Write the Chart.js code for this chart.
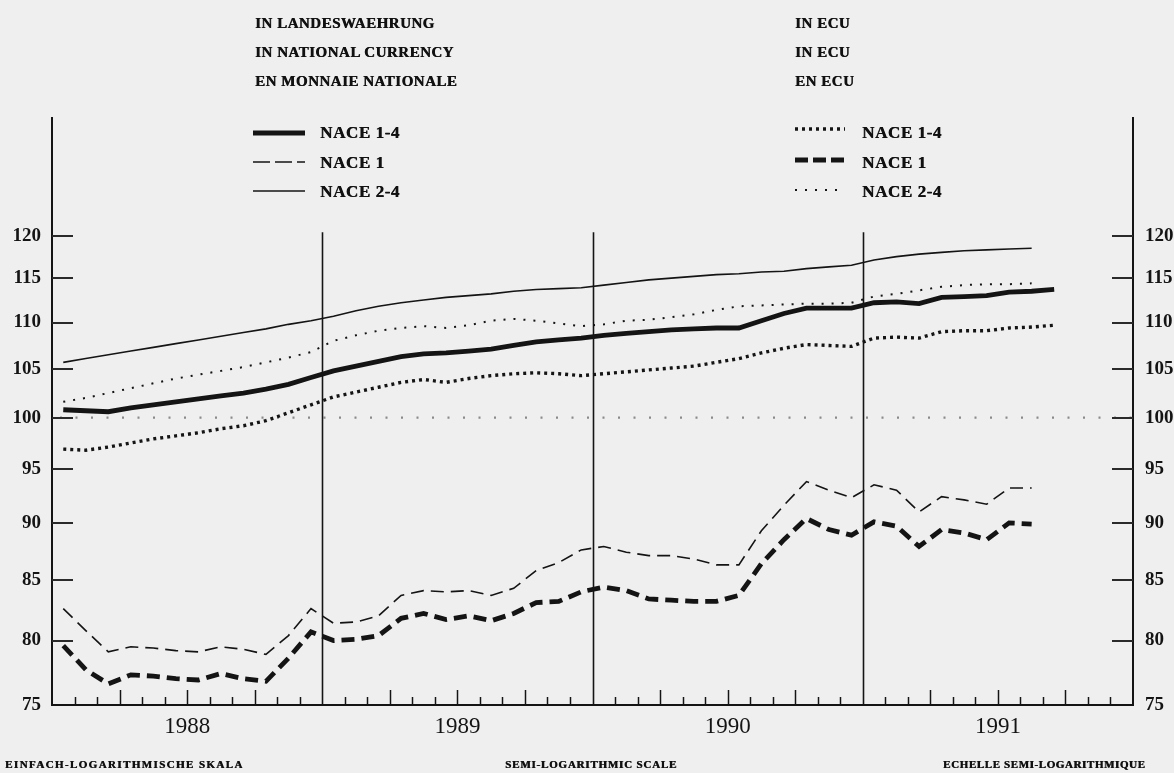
<!DOCTYPE html>
<html>
<head>
<meta charset="utf-8">
<script src="https://cdn.jsdelivr.net/npm/chart.js@4.4.1/dist/chart.umd.min.js"></script>
<style>
html,body{margin:0;padding:0;background:#efefef;}
#wrap{position:relative;width:1174px;height:773px;overflow:hidden;background:#efefef;}
#c{position:absolute;left:0;top:0;}
.t{position:absolute;font-family:"Liberation Serif",serif;font-weight:bold;color:#111;white-space:nowrap;line-height:1;text-shadow:0.5px 0 0 #111;}
.h{font-size:15px;letter-spacing:0.5px;}
.l{font-size:17px;letter-spacing:0.6px;}
.b{font-size:11px;font-weight:900;text-shadow:0.6px 0 0 #111;}
</style>
</head>
<body>
<div id="wrap">
<canvas id="c" width="1174" height="773"></canvas>
<div class="t h" style="left:255px;top:16px">IN LANDESWAEHRUNG</div>
<div class="t h" style="left:255px;top:45px">IN NATIONAL CURRENCY</div>
<div class="t h" style="left:255px;top:74px">EN MONNAIE NATIONALE</div>
<div class="t h" style="left:795px;top:16px">IN ECU</div>
<div class="t h" style="left:795px;top:45px">IN ECU</div>
<div class="t h" style="left:795px;top:74px">EN ECU</div>
<div class="t l" style="left:320px;top:124px">NACE 1-4</div>
<div class="t l" style="left:320px;top:154px">NACE 1</div>
<div class="t l" style="left:320px;top:183px">NACE 2-4</div>
<div class="t l" style="left:862px;top:124px">NACE 1-4</div>
<div class="t l" style="left:862px;top:154px">NACE 1</div>
<div class="t l" style="left:862px;top:183px">NACE 2-4</div>
<div class="t b" style="left:5px;top:759px;letter-spacing:1.4px">EINFACH-LOGARITHMISCHE SKALA</div>
<div class="t b" style="left:505px;top:759px;letter-spacing:0.8px">SEMI-LOGARITHMIC SCALE</div>
<div class="t b" style="left:943px;top:759px;letter-spacing:0.6px">ECHELLE SEMI-LOGARITHMIQUE</div>
</div>
<script>
// ---- data (monthly, from January 1988) ----
const yearLabels = ['1988', '1989', '1990', '1991'];
const yTickValues = [75, 80, 85, 90, 95, 100, 105, 110, 115, 120];
const referenceValue = 100;

const nace14National = [
  100.8, 100.7, 100.6, 101.0, 101.3, 101.6, 101.9, 102.2, 102.5, 102.9, 103.4, 104.1,
  104.8, 105.3, 105.8, 106.3, 106.6, 106.7, 106.9, 107.1, 107.5, 107.9, 108.1, 108.3,
  108.6, 108.8, 109.0, 109.2, 109.3, 109.4, 109.4, 110.2, 111.0, 111.6, 111.6, 111.6,
  112.2, 112.3, 112.1, 112.8, 112.9, 113.0, 113.4, 113.5, 113.7
];
const nace1National = [
  82.6, 80.8, 79.1, 79.5, 79.4, 79.2, 79.1, 79.5, 79.3, 78.9, 80.4, 82.6,
  81.4, 81.5, 82.0, 83.7, 84.1, 84.0, 84.1, 83.7, 84.3, 85.8, 86.5, 87.6,
  87.9, 87.4, 87.1, 87.1, 86.8, 86.3, 86.3, 89.3, 91.6, 93.8, 93.0, 92.3,
  93.5, 93.0, 91.0, 92.4, 92.1, 91.7, 93.2, 93.2
];
const nace24National = [
  105.7, 106.1, 106.5, 106.9, 107.3, 107.7, 108.1, 108.5, 108.9, 109.3, 109.8, 110.2,
  110.7, 111.3, 111.8, 112.2, 112.5, 112.8, 113.0, 113.2, 113.5, 113.7, 113.8, 113.9,
  114.2, 114.5, 114.8, 115.0, 115.2, 115.4, 115.5, 115.7, 115.8, 116.1, 116.3, 116.5,
  117.1, 117.5, 117.8, 118.0, 118.2, 118.3, 118.4, 118.5
];
const nace14Ecu = [
  96.9, 96.8, 97.1, 97.5, 97.9, 98.2, 98.5, 98.9, 99.2, 99.7, 100.5, 101.3,
  102.1, 102.6, 103.1, 103.6, 103.9, 103.6, 104.0, 104.3, 104.5, 104.6, 104.5, 104.3,
  104.5, 104.7, 104.9, 105.1, 105.3, 105.7, 106.1, 106.7, 107.2, 107.6, 107.5, 107.4,
  108.3, 108.4, 108.3, 109.0, 109.1, 109.1, 109.4, 109.5, 109.7
];
const nace1Ecu = [
  79.6, 77.7, 76.6, 77.3, 77.2, 77.0, 76.9, 77.4, 77.0, 76.8, 78.6, 80.7,
  80.0, 80.1, 80.4, 81.8, 82.2, 81.7, 82.0, 81.6, 82.2, 83.1, 83.2, 84.0,
  84.4, 84.1, 83.4, 83.3, 83.2, 83.2, 83.7, 86.4, 88.5, 90.4, 89.4, 88.9,
  90.1, 89.7, 87.9, 89.4, 89.1, 88.5, 90.0, 89.9
];
const nace24Ecu = [
  101.6, 102.0, 102.5, 103.0, 103.5, 104.0, 104.4, 104.8, 105.2, 105.7, 106.2, 106.8,
  108.0, 108.6, 109.1, 109.4, 109.6, 109.4, 109.7, 110.2, 110.4, 110.2, 109.9, 109.6,
  109.8, 110.2, 110.3, 110.6, 110.9, 111.4, 111.8, 111.9, 112.0, 112.1, 112.1, 112.2,
  112.9, 113.2, 113.6, 114.0, 114.2, 114.3, 114.3, 114.4
];

// ---- helpers ----
const monthsTotal = yearLabels.length * 12;
const toXY = arr => arr.map((v, i) => ({ x: i + 0.5, y: v }));
const INK = '#141414';

const styles = {
  n14: { borderWidth: 4.8, borderDash: [] },
  n1:  { borderWidth: 1.6, borderDash: [13, 7] },
  n24: { borderWidth: 1.6, borderDash: [] },
  e14: { borderWidth: 3.4, borderDash: [3, 4] },
  e1:  { borderWidth: 4.8, borderDash: [13, 7] },
  e24: { borderWidth: 2,   borderDash: [2, 8] }
};

function ds(label, arr, st, axis) {
  return {
    label, data: toXY(arr), borderColor: INK, backgroundColor: INK,
    borderWidth: st.borderWidth, borderDash: st.borderDash,
    pointRadius: 0, tension: 0, fill: false, yAxisID: axis || 'y'
  };
}

const deco = {
  id: 'deco',
  beforeDatasetsDraw(chart) {
    const { ctx, chartArea: a, scales } = chart;
    const x = scales.x, y = scales.y;
    ctx.save();
    // reference line
    const yr = y.getPixelForValue(referenceValue);
    ctx.strokeStyle = '#8a8a8a';
    ctx.lineWidth = 2.2;
    ctx.setLineDash([2, 13.5]);
    ctx.beginPath(); ctx.moveTo(a.left + 8, yr); ctx.lineTo(a.right, yr); ctx.stroke();
    ctx.setLineDash([]);
    // year separators
    ctx.strokeStyle = INK; ctx.lineWidth = 1.6;
    const topY = y.getPixelForValue(120.4);
    for (let m = 12; m < monthsTotal; m += 12) {
      const px = Math.round(x.getPixelForValue(m)) + 0.5;
      ctx.beginPath(); ctx.moveTo(px, topY); ctx.lineTo(px, a.bottom); ctx.stroke();
    }
    // month / quarter ticks
    ctx.lineWidth = 1.5;
    for (let m = 1; m < monthsTotal; m++) {
      if (m % 12 === 0) continue;
      const px = Math.round(x.getPixelForValue(m)) + 0.5;
      const len = m % 3 === 0 ? 15 : 8;
      ctx.beginPath(); ctx.moveTo(px, a.bottom); ctx.lineTo(px, a.bottom - len); ctx.stroke();
    }
    // value ticks both sides
    ctx.lineWidth = 2;
    ctx.strokeStyle = '#2a2a2a';
    yTickValues.forEach(v => {
      if (v === 75) return;
      const py = Math.round(y.getPixelForValue(v));
      ctx.beginPath(); ctx.moveTo(a.left, py); ctx.lineTo(a.left + 21, py); ctx.stroke();
      ctx.beginPath(); ctx.moveTo(a.right - 21, py); ctx.lineTo(a.right, py); ctx.stroke();
    });
    ctx.restore();
  },
  afterDraw(chart) {
    const ctx = chart.ctx;
    ctx.save();
    ctx.strokeStyle = INK;
    const sample = (x0, x1, yy, st) => {
      ctx.lineWidth = st.borderWidth;
      ctx.setLineDash(st.borderDash);
      ctx.beginPath(); ctx.moveTo(x0, yy); ctx.lineTo(x1, yy); ctx.stroke();
    };
    sample(253, 305, 133, styles.n14);
    sample(253, 305, 162, { borderWidth: 1.6, borderDash: [17, 5] });
    sample(253, 305, 191, styles.n24);
    sample(795, 845, 129, styles.e14);
    sample(795, 845, 160, { borderWidth: 4.8, borderDash: [13, 5] });
    sample(795, 845, 190, styles.e24);
    ctx.restore();
  }
};

const yFont = { family: '"Liberation Serif", serif', size: 19, weight: 'bold' };

new Chart(document.getElementById('c'), {
  type: 'line',
  data: {
    datasets: [
      ds('NACE 2-4 (national)', nace24National, styles.n24),
      ds('NACE 1-4 (national)', nace14National, styles.n14),
      ds('NACE 1 (national)', nace1National, styles.n1),
      ds('NACE 2-4 (ECU)', nace24Ecu, styles.e24),
      ds('NACE 1-4 (ECU)', nace14Ecu, styles.e14),
      ds('NACE 1 (ECU)', nace1Ecu, styles.e1)
    ]
  },
  options: {
    responsive: false,
    devicePixelRatio: 1,
    animation: false,
    layout: { padding: { top: 118, left: 0, right: 0, bottom: 0 } },
    plugins: { legend: { display: false }, tooltip: { enabled: false } },
    scales: {
      x: {
        type: 'linear', min: 0, max: monthsTotal, position: 'bottom',
        afterBuildTicks: s => { s.ticks = yearLabels.map((_, i) => ({ value: i * 12 + 6 })); },
        afterFit: s => { s.height = 68; },
        ticks: {
          autoSkip: false, maxRotation: 0, padding: 8, color: INK,
          font: { family: '"Liberation Serif", serif', size: 23 },
          callback: v => yearLabels[(v - 6) / 12] || ''
        },
        grid: { display: true, drawOnChartArea: false, drawTicks: false },
        border: { display: true, color: INK, width: 2 }
      },
      y: {
        type: 'logarithmic', min: 75, max: 135, position: 'left',
        afterBuildTicks: s => { s.ticks = yTickValues.map(v => ({ value: v })); },
        afterFit: s => { s.width = 52; },
        ticks: { padding: 11, color: INK, font: yFont, callback: v => String(v) },
        grid: { display: true, drawOnChartArea: false, drawTicks: false },
        border: { display: true, color: INK, width: 2 }
      },
      y2: {
        type: 'logarithmic', min: 75, max: 135, position: 'right',
        afterBuildTicks: s => { s.ticks = yTickValues.map(v => ({ value: v })); },
        afterFit: s => { s.width = 41; },
        ticks: { padding: 12, color: INK, font: yFont, callback: v => String(v) },
        grid: { display: true, drawOnChartArea: false, drawTicks: false },
        border: { display: true, color: INK, width: 2 }
      }
    }
  },
  plugins: [deco]
});
</script>
</body>
</html>
